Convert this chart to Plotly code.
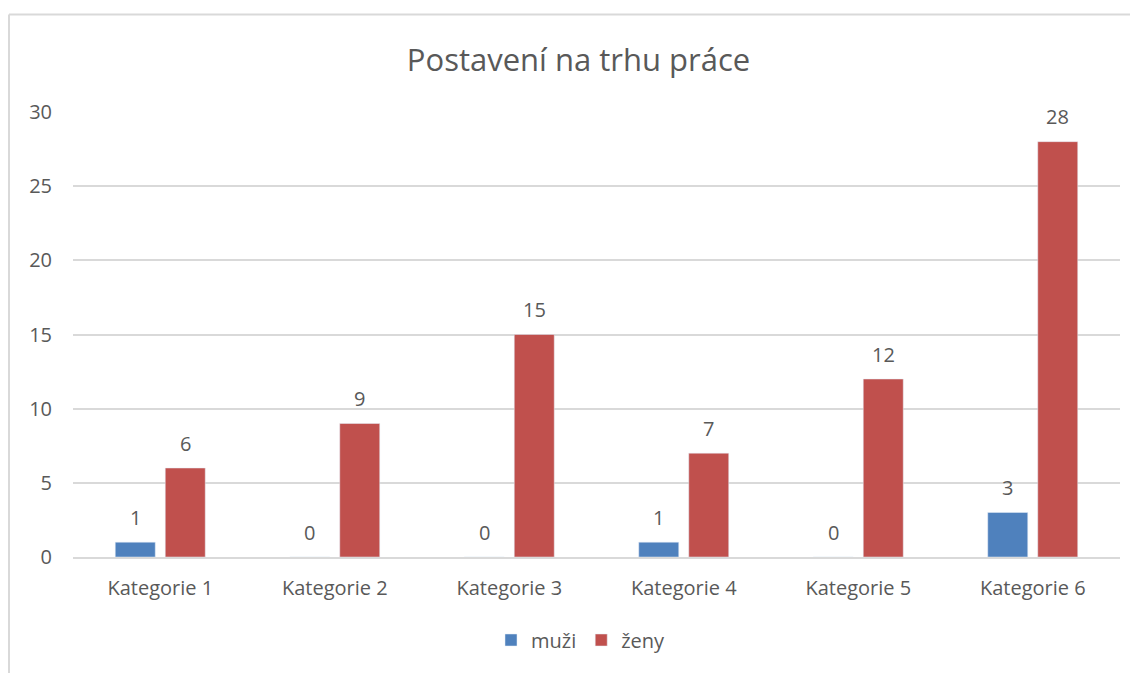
import plotly.graph_objects as go

categories = ["Kategorie 1", "Kategorie 2", "Kategorie 3", "Kategorie 4", "Kategorie 5", "Kategorie 6"]
muzi = [1, 0, 0, 1, 0, 3]
zeny = [6, 9, 15, 7, 12, 28]
y_ticks = [0, 5, 10, 15, 20, 25, 30]

FONT = "Open Sans"
GRAY = "#595959"
BLUE = "#4F81BD"
RED = "#C0504D"

fig = go.Figure()
fig.add_trace(go.Bar(x=categories, y=muzi, name="muži", marker_color=BLUE))
fig.add_trace(go.Bar(x=categories, y=zeny, name="ženy", marker_color=RED))

# page has an 8px body margin; figure coords = page coords - 8
W, H = 1130, 665
L, T = 65, 104
R = W - 1112
B = H - 549
pw, ph = W - L - R, H - T - B


def px(x):
    return (x - L) / pw


def py(y):
    return (H - B - y) / ph


annotations = []
for series, shift in ((muzi, -25), (zeny, 25)):
    for cat, val in zip(categories, series):
        annotations.append(dict(x=cat, y=val, xref="x", yref="y", text=str(val),
                                showarrow=False, xshift=shift, yshift=25,
                                yanchor="middle",
                                font=dict(size=20, color=GRAY, family=FONT)))

border = dict(color="#D9D9D9", width=2)

fig.update_layout(
    width=W, height=H,
    margin=dict(l=L, r=R, t=T, b=B),
    paper_bgcolor="white", plot_bgcolor="white",
    barmode="group", bargap=0.427, bargroupgap=0.2,
    title=dict(text="Postavení na trhu práce", xref="paper", x=px(570.5), xanchor="center",
               y=1 - 52 / H, yanchor="middle",
               font=dict(family=FONT, size=31, color=GRAY)),
    font=dict(family=FONT, color=GRAY),
    xaxis=dict(showgrid=False, showline=True, linecolor="#D9D9D9", linewidth=1.5,
               tickfont=dict(size=20, color=GRAY, family=FONT), ticks="",
               ticklabelstandoff=12),
    yaxis=dict(range=[0, 30], tickvals=y_ticks, showgrid=True, gridcolor="#D9D9D9",
               gridwidth=1.5, zeroline=False, showline=False,
               tickfont=dict(size=20, color=GRAY, family=FONT), ticks="",
               ticklabelstandoff=20),
    legend=dict(orientation="h", x=px(573), xanchor="center",
                yref="container", y=1 - 632 / H, yanchor="middle",
                font=dict(size=20, color=GRAY, family=FONT), traceorder="normal",
                itemwidth=30),
    showlegend=True,
    annotations=annotations,
    shapes=[
        dict(type="line", xref="paper", yref="paper", x0=px(1), x1=px(1200),
             y0=py(6.5), y1=py(6.5), line=border, layer="below"),
        dict(type="line", xref="paper", yref="paper", x0=px(1), x1=px(1),
             y0=py(6.5), y1=py(720), line=border, layer="below"),
    ],
)

fig.write_html("out.html")
